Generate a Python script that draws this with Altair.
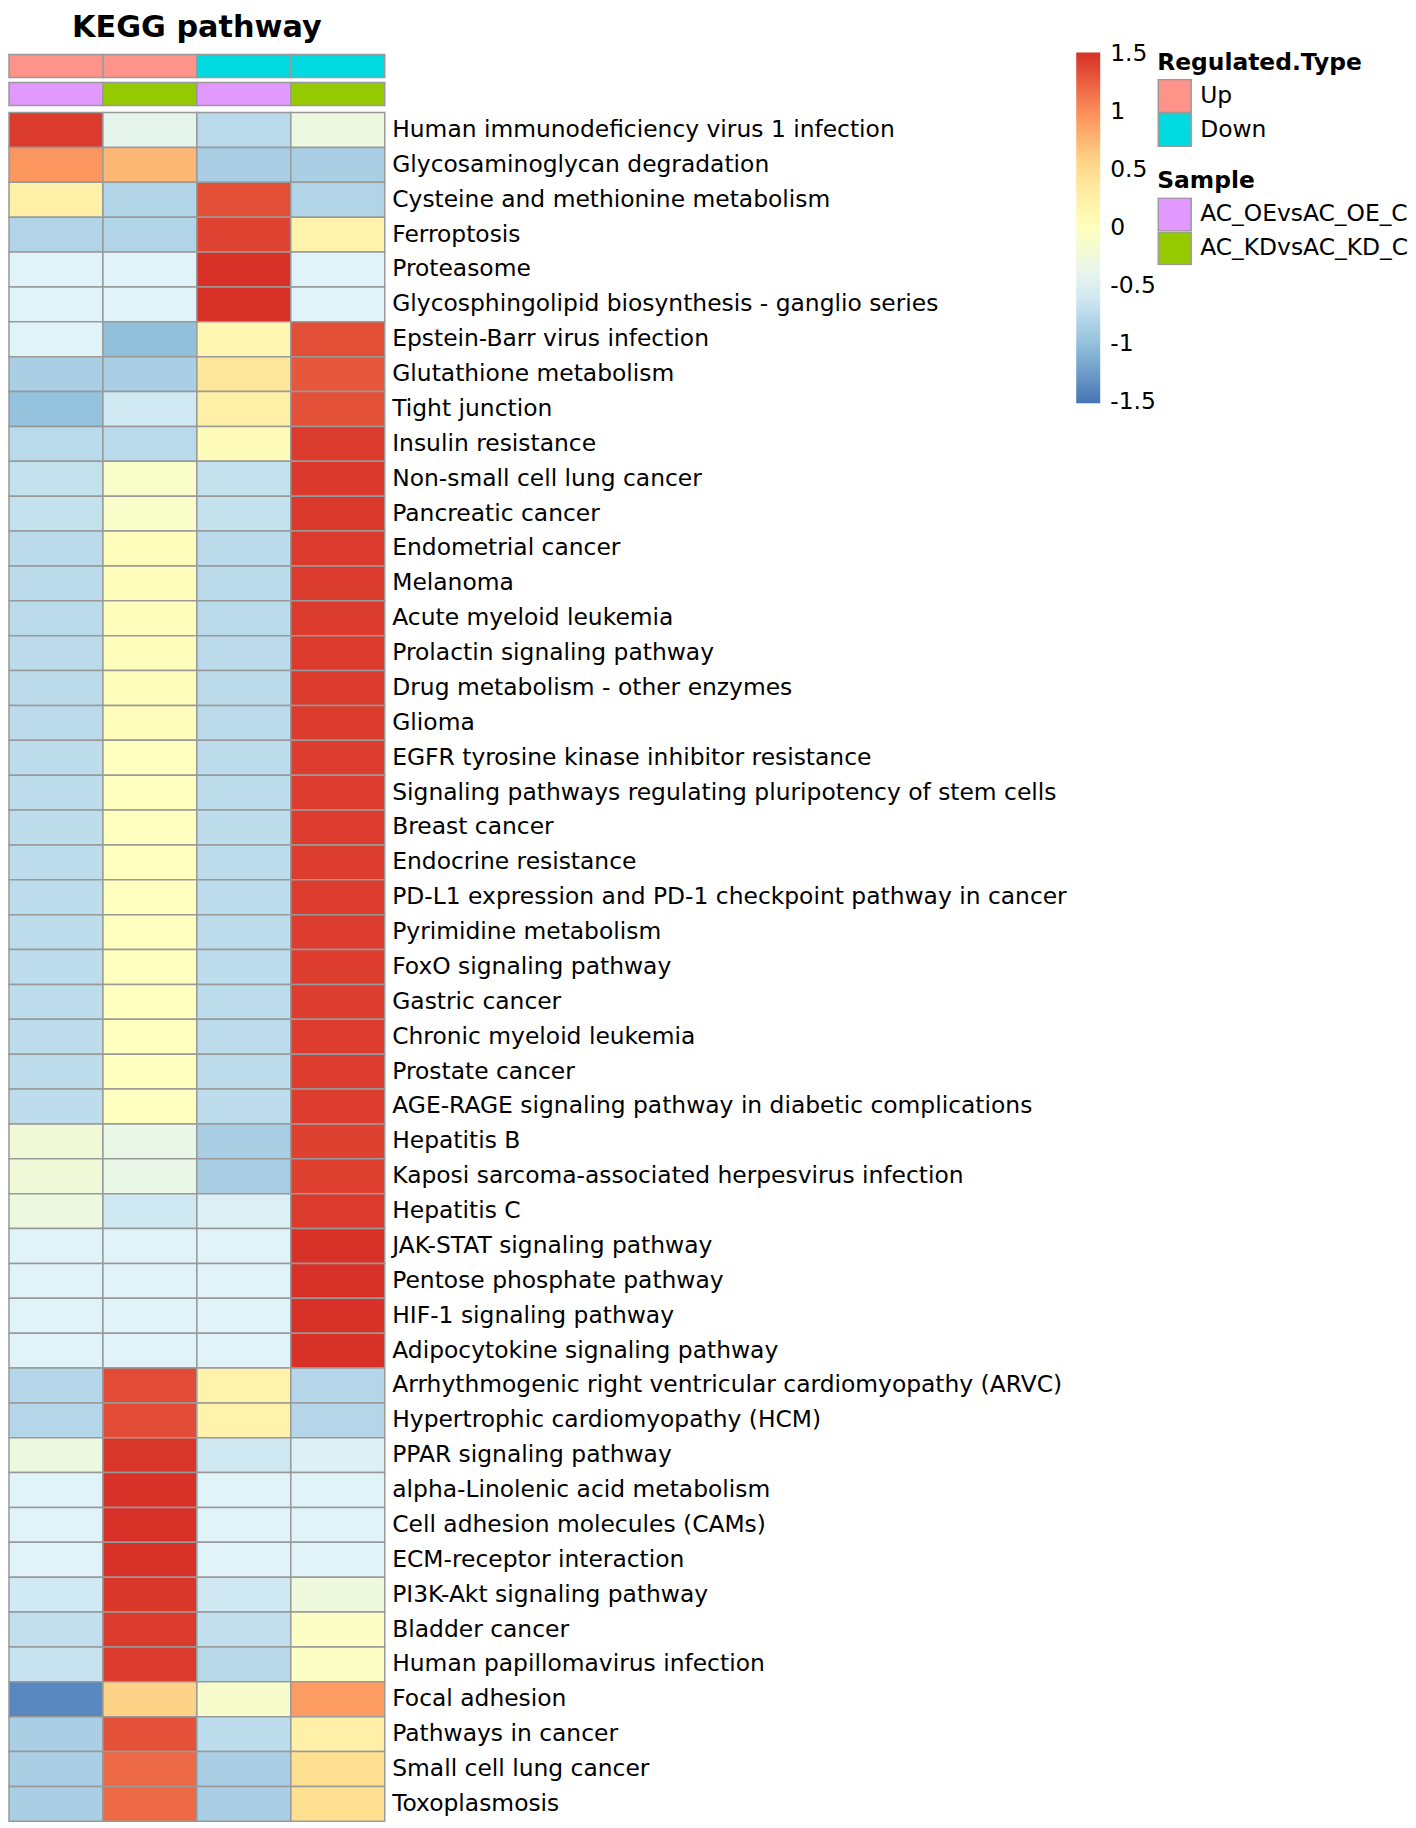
import altair as alt
import pandas as pd

# ---------------- data ----------------
pathways = [
    "Human immunodeficiency virus 1 infection",
    "Glycosaminoglycan degradation",
    "Cysteine and methionine metabolism",
    "Ferroptosis",
    "Proteasome",
    "Glycosphingolipid biosynthesis - ganglio series",
    "Epstein-Barr virus infection",
    "Glutathione metabolism",
    "Tight junction",
    "Insulin resistance",
    "Non-small cell lung cancer",
    "Pancreatic cancer",
    "Endometrial cancer",
    "Melanoma",
    "Acute myeloid leukemia",
    "Prolactin signaling pathway",
    "Drug metabolism - other enzymes",
    "Glioma",
    "EGFR tyrosine kinase inhibitor resistance",
    "Signaling pathways regulating pluripotency of stem cells",
    "Breast cancer",
    "Endocrine resistance",
    "PD-L1 expression and PD-1 checkpoint pathway in cancer",
    "Pyrimidine metabolism",
    "FoxO signaling pathway",
    "Gastric cancer",
    "Chronic myeloid leukemia",
    "Prostate cancer",
    "AGE-RAGE signaling pathway in diabetic complications",
    "Hepatitis B",
    "Kaposi sarcoma-associated herpesvirus infection",
    "Hepatitis C",
    "JAK-STAT signaling pathway",
    "Pentose phosphate pathway",
    "HIF-1 signaling pathway",
    "Adipocytokine signaling pathway",
    "Arrhythmogenic right ventricular cardiomyopathy (ARVC)",
    "Hypertrophic cardiomyopathy (HCM)",
    "PPAR signaling pathway",
    "alpha-Linolenic acid metabolism",
    "Cell adhesion molecules (CAMs)",
    "ECM-receptor interaction",
    "PI3K-Akt signaling pathway",
    "Bladder cancer",
    "Human papillomavirus infection",
    "Focal adhesion",
    "Pathways in cancer",
    "Small cell lung cancer",
    "Toxoplasmosis",
]

columns = ["Up_AC_OE", "Up_AC_KD", "Down_AC_OE", "Down_AC_KD"]
regulated_type = ["Up", "Up", "Down", "Down"]
sample = ["AC_OEvsAC_OE_C", "AC_KDvsAC_KD_C", "AC_OEvsAC_OE_C", "AC_KDvsAC_KD_C"]

# row-scaled values (z-scores), one list per column
up_oe = [1.45, 0.95, 0.25, -0.80, -0.50, -0.50, -0.50, -0.85, -0.98, -0.75,
         -0.68, -0.68, -0.74, -0.74, -0.74, -0.74, -0.74, -0.74, -0.72, -0.72,
         -0.72, -0.72, -0.72, -0.72, -0.72, -0.72, -0.72, -0.72, -0.72, -0.22,
         -0.22, -0.30, -0.50, -0.50, -0.50, -0.50, -0.78, -0.78, -0.30, -0.50,
         -0.50, -0.50, -0.60, -0.70, -0.66, -1.38, -0.85, -0.85, -0.85]
up_kd = [-0.40, 0.75, -0.80, -0.80, -0.50, -0.50, -1.00, -0.85, -0.60, -0.75,
         -0.10, -0.10, 0.03, 0.03, 0.03, 0.03, 0.03, 0.03, 0.00, 0.00,
         0.00, 0.00, 0.00, 0.00, 0.00, 0.00, 0.00, 0.00, 0.00, -0.35,
         -0.35, -0.62, -0.50, -0.50, -0.50, -0.50, 1.36, 1.36, 1.48, 1.50,
         1.50, 1.50, 1.47, 1.45, 1.45, 0.58, 1.33, 1.20, 1.20]
down_oe = [-0.75, -0.85, 1.35, 1.40, 1.50, 1.50, 0.15, 0.40, 0.25, 0.05,
           -0.68, -0.68, -0.74, -0.74, -0.74, -0.74, -0.74, -0.74, -0.72, -0.72,
           -0.72, -0.72, -0.72, -0.72, -0.72, -0.72, -0.72, -0.72, -0.72, -0.85,
           -0.85, -0.53, -0.50, -0.50, -0.50, -0.50, 0.20, 0.20, -0.62, -0.50,
           -0.50, -0.50, -0.62, -0.70, -0.76, -0.12, -0.72, -0.85, -0.85]
down_kd = [-0.30, -0.85, -0.80, 0.20, -0.50, -0.50, 1.35, 1.30, 1.33, 1.45,
           1.46, 1.46, 1.45, 1.45, 1.45, 1.45, 1.45, 1.45, 1.44, 1.44,
           1.44, 1.44, 1.44, 1.44, 1.44, 1.44, 1.44, 1.44, 1.44, 1.42,
           1.42, 1.45, 1.50, 1.50, 1.50, 1.50, -0.78, -0.78, -0.53, -0.50,
           -0.50, -0.50, -0.27, -0.05, -0.05, 0.92, 0.25, 0.50, 0.50]

color_ticks = [-1.5, -1, -0.5, 0, 0.5, 1, 1.5]
color_domain = [-1.51, 1.51]
heat_colors = ["#4575b4", "#91bfdb", "#e0f3f8", "#ffffbf", "#fee090", "#fc8d59", "#d73027"]
reg_colors = ["#FF9289", "#00DAE0"]
sample_colors = ["#E199FF", "#96CA00"]

# ---------------- tables ----------------
records = []
for i, p in enumerate(pathways):
    for c, arr in zip(columns, [up_oe, up_kd, down_oe, down_kd]):
        records.append({"pathway": p, "column": c, "z": arr[i]})
heat_df = pd.DataFrame(records)

ann_df = pd.DataFrame({"column": columns, "reg": regulated_type, "sample": sample})

FONT = "DejaVu Sans"
FS = 23.4
GRID = "#999999"
W = 376

x_enc = alt.X("column:N", sort=columns, axis=None,
              scale=alt.Scale(paddingInner=0, paddingOuter=0))
ann_y_scale = alt.Scale(domain=["Regulated.Type", "Sample"], paddingInner=5 / 28, paddingOuter=0)

sym_legend = dict(
    orient="none", symbolType="square", symbolSize=1089, clipHeight=34,
    symbolStrokeColor=GRID, symbolStrokeWidth=1.5, symbolOpacity=1,
    labelOffset=8, rowPadding=0, titlePadding=4, padding=0,
    titleFontSize=FS, titleFontWeight="bold", titleFont=FONT, titleColor="black",
    labelFontSize=FS, labelFont=FONT, labelColor="black", labelLimit=1000,
    titleLimit=1000,
)

reg_layer = alt.Chart(ann_df).transform_calculate(
    track="'Regulated.Type'"
).mark_rect(stroke=GRID, strokeWidth=1.5).encode(
    x=x_enc,
    y=alt.Y("track:N", scale=ann_y_scale, axis=None),
    color=alt.Color(
        "reg:N",
        scale=alt.Scale(domain=["Up", "Down"], range=reg_colors),
        legend=alt.Legend(title="Regulated.Type", legendX=1149, legendY=-3, **sym_legend),
    ),
)

sample_layer = alt.Chart(ann_df).transform_calculate(
    track="'Sample'"
).mark_rect(stroke=GRID, strokeWidth=1.5).encode(
    x=x_enc,
    y=alt.Y("track:N", scale=ann_y_scale, axis=None),
    color=alt.Color(
        "sample:N",
        scale=alt.Scale(domain=["AC_OEvsAC_OE_C", "AC_KDvsAC_KD_C"], range=sample_colors),
        legend=alt.Legend(title="Sample", legendX=1149, legendY=115.5, **sym_legend),
    ),
)

ann = alt.layer(reg_layer, sample_layer).resolve_scale(
    color="independent"
).properties(
    width=W, height=51,
    title=alt.TitleParams("KEGG pathway", fontSize=30.3, fontWeight="bold", font=FONT,
                          anchor="middle", frame="group", offset=8, color="black"),
)

heat = alt.Chart(heat_df).mark_rect(stroke=GRID, strokeWidth=1.5).encode(
    x=x_enc,
    y=alt.Y("pathway:N", sort=pathways,
            scale=alt.Scale(paddingInner=0, paddingOuter=0),
            axis=alt.Axis(orient="right", title=None, domain=False, ticks=False,
                          labelPadding=7, labelFontSize=FS, labelFont=FONT,
                          labelColor="black", labelLimit=2000)),
    color=alt.Color(
        "z:Q",
        scale=alt.Scale(domain=color_domain, range=heat_colors, interpolate="rgb"),
        legend=alt.Legend(title=None, orient="none", legendX=1068, legendY=-60,
                          direction="vertical", gradientLength=351, gradientThickness=24,
                          gradientStrokeWidth=0, values=color_ticks,
                          labelExpr="'' + datum.value", labelOffset=10,
                          labelFontSize=FS, labelFont=FONT, labelColor="black",
                          labelBaseline="middle", labelOverlap=False, padding=0),
    ),
).properties(width=W, height=1710)

chart = alt.vconcat(ann, heat, spacing=7, bounds="flush").resolve_scale(
    color="independent", y="independent", x="shared"
).properties(
    padding={"left": 0, "top": 4, "right": 0, "bottom": 0}
).configure(font=FONT).configure_view(stroke=None)

chart.save("out.html", embed_options={"renderer": "svg", "actions": False})
